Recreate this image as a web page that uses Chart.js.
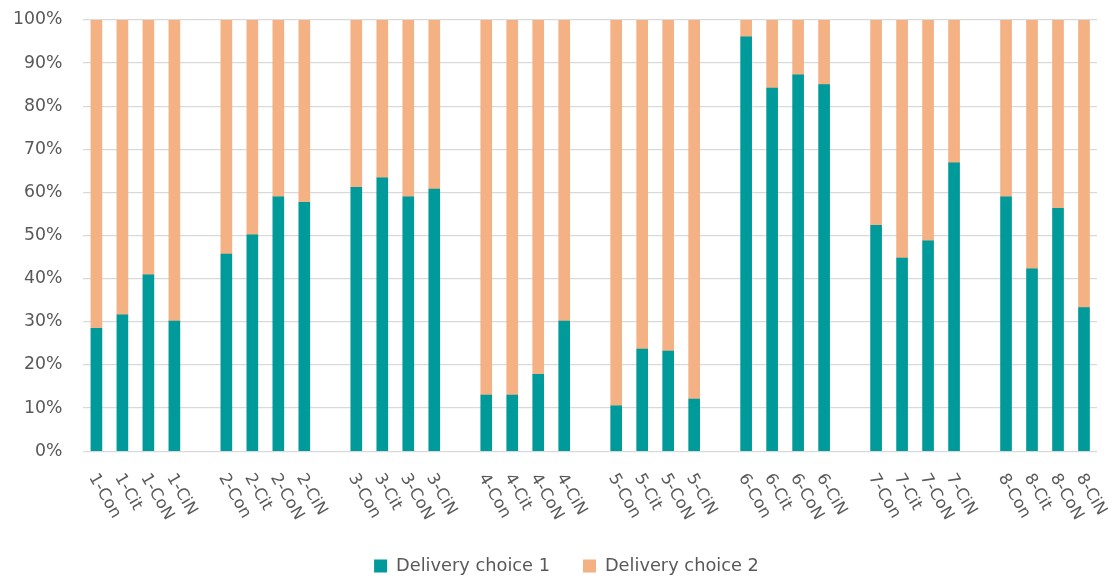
<!DOCTYPE html>
<html>
<head>
<meta charset="utf-8">
<script src="https://cdn.jsdelivr.net/npm/chart.js@4"></script>
<style>
  html, body { margin: 0; padding: 0; background: #ffffff; }
  #wrap { width: 1112px; height: 581px; position: relative; }
</style>
</head>
<body>
<div id="wrap"><canvas id="chart"></canvas></div>
<script>
// Groups 1–8, each with four delivery variants
const groups = ['1', '2', '3', '4', '5', '6', '7', '8'];
const variants = ['Con', 'Cit', 'CoN', 'CiN'];

// Share (%) choosing delivery option 1, in group/variant order
const choice1 = [
  28.5, 31.6, 40.9, 30.2,
  45.7, 50.2, 59.0, 57.7,
  61.2, 63.4, 59.0, 60.8,
  13.0, 13.0, 17.8, 30.2,
  10.5, 23.7, 23.2, 12.1,
  96.1, 84.2, 87.3, 85.0,
  52.4, 44.8, 48.8, 66.9,
  59.0, 42.3, 56.3, 33.3
];

// Share (%) choosing delivery option 2
const choice2 = [
  71.5, 68.4, 59.1, 69.8,
  54.3, 49.8, 41.0, 42.3,
  38.8, 36.6, 41.0, 39.2,
  87.0, 87.0, 82.2, 69.8,
  89.5, 76.3, 76.8, 87.9,
  3.9, 15.8, 12.7, 15.0,
  47.6, 55.2, 51.2, 33.1,
  41.0, 57.7, 43.7, 66.7
];

const seriesNames = ['Delivery choice 1', 'Delivery choice 2'];
const yTicks = [0, 10, 20, 30, 40, 50, 60, 70, 80, 90, 100];

// Build category axis with an empty slot between groups
const labels = [];
const d1 = [];
const d2 = [];
groups.forEach((g, gi) => {
  if (gi > 0) { labels.push(''); d1.push(null); d2.push(null); }
  variants.forEach((v, vi) => {
    const k = gi * variants.length + vi;
    labels.push(g + '-' + v);
    d1.push(choice1[k]);
    d2.push(choice2[k]);
  });
});

const TEXT = '#595959';
const FONT = 'DejaVu Sans';

// Category labels drawn slanted downward to the right from each tick
const slantedLabels = {
  id: 'slantedLabels',
  afterLayout(chart) {
    // nudge the legend row a little to the right
    if (chart.legend) { chart.legend.left += 22; chart.legend.right += 22; }
  },
  afterDraw(chart) {
    const xs = chart.scales.x;
    const ctx = chart.ctx;
    ctx.save();
    ctx.fillStyle = TEXT;
    ctx.font = '16.5px "' + FONT + '"';
    ctx.textAlign = 'left';
    ctx.textBaseline = 'middle';
    labels.forEach((lab, i) => {
      if (!lab) return;
      const x = xs.getPixelForValue(i);
      ctx.save();
      ctx.translate(x - 4, xs.top + 24);
      ctx.rotate(60 * Math.PI / 180);
      ctx.fillText(lab, 0, 0);
      ctx.restore();
    });
    ctx.restore();
  }
};

new Chart(document.getElementById('chart'), {
  type: 'bar',
  data: {
    labels: labels,
    datasets: [
      { label: seriesNames[0], data: d1, backgroundColor: '#009a9a', borderWidth: 0, barThickness: 11 },
      { label: seriesNames[1], data: d2, backgroundColor: '#f4b183', borderWidth: 0, barThickness: 11 }
    ]
  },
  options: {
    responsive: true,
    maintainAspectRatio: false,
    animation: false,
    layout: { padding: { left: -8, right: 15, top: 20, bottom: -4 } },
    plugins: {
      tooltip: { enabled: false },
      legend: {
        position: 'bottom',
        labels: {
          color: TEXT,
          font: { family: FONT, size: 17.8 },
          boxWidth: 13,
          boxHeight: 13,
          padding: 33
        }
      }
    },
    scales: {
      x: {
        stacked: true,
        grid: { display: false },
        border: { display: false },
        ticks: { display: false },
        afterFit(scale) { scale.height = 73; }
      },
      y: {
        stacked: true,
        min: 0,
        max: 100,
        afterBuildTicks(scale) { scale.ticks = yTicks.map(v => ({ value: v })); },
        afterFit(scale) { scale.paddingTop = 0; scale.paddingBottom = 0; },
        grid: { color: '#d9d9d9', lineWidth: 1.3, drawTicks: false },
        border: { display: false },
        ticks: {
          color: TEXT,
          font: { family: FONT, size: 17.3 },
          padding: 21,
          callback: v => v + '%'
        }
      }
    }
  },
  plugins: [slantedLabels]
});
</script>
</body>
</html>
